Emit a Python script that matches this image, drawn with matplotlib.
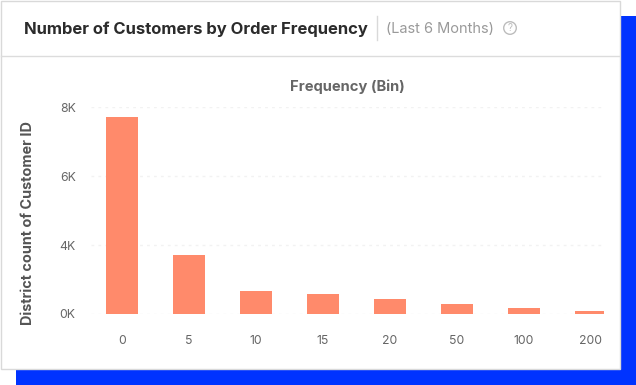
import numpy as np
import matplotlib
matplotlib.use("Agg")
import matplotlib.pyplot as plt
from matplotlib.patches import Rectangle, Circle

categories = ["0", "5", "10", "15", "20", "50", "100", "200"]
values = [7710, 3420, 1330, 1160, 870, 580, 350, 175]
tick_values = [0, 4000, 6000, 8000]
tick_labels = ["0K", "4K", "6K", "8K"]
title = "Number of Customers by Order Frequency"
subtitle = "(Last 6 Months)"
x_title = "Frequency (Bin)"
y_title = "District count of Customer ID"

W, H = 636, 385
FONT = "Inter"
plt.rcParams["font.family"] = [FONT, "DejaVu Sans"]

fig = plt.figure(figsize=(W / 100, H / 100), dpi=100, facecolor="white")
bg = fig.add_axes([0, 0, 1, 1])
bg.set_xlim(0, W)
bg.set_ylim(H, 0)
bg.axis("off")
bg.add_patch(Rectangle((16, 16), W - 16, H - 16, fc="#0033ff", ec="none"))
bg.add_patch(Rectangle((0.5, 0.5), 619, 368, fc="white", ec="#d9d9d9", lw=1))
bg.plot([1, 619], [55.5, 55.5], color="#dcdcdc", lw=1)
bg.plot([376.5, 376.5], [16, 40], color="#d9d9d9", lw=1)
bg.text(24, 29, title, fontsize=11.95, fontweight="bold", color="#2b2b2b", va="center")
bg.text(386, 29, subtitle, fontsize=10.5, color="#9a9a9a", va="center")
bg.add_patch(Circle((510, 28), 6.3, fc="none", ec="#bdbdbd", lw=1))
bg.text(510, 28.3, "?", fontsize=7, color="#bdbdbd", ha="center", va="center")
bg.text(347, 86.8, x_title, fontsize=10.6, fontweight="bold", color="#666666", ha="center", va="center")
bg.text(27.8, 223, y_title, fontsize=10.4, fontweight="bold", color="#555555", rotation=90, ha="center", va="center")

# Axes frame in pixels: x 91..604, y 107..314
ax = fig.add_axes([91 / W, 1 - 314 / H, (604 - 91) / W, (314 - 107) / H])
ax.patch.set_alpha(0)
fwd = lambda v: np.interp(v, tick_values, [0, 1, 2, 3])
inv = lambda p: np.interp(p, [0, 1, 2, 3], tick_values)
ax.set_yscale("function", functions=(fwd, inv))
ax.set_ylim(0, 8000)
xpos = np.arange(len(categories))
ax.set_xlim((91 - 122) / 67, (604 - 122) / 67)
ax.bar(xpos, values, width=32 / 67, color="#ff8a6b", zorder=3)
ax.set_yticks(tick_values, tick_labels)
ax.set_xticks(xpos, categories)
ax.minorticks_off()
ax.tick_params(axis="both", length=0, labelsize=8.8, labelcolor="#666666")
ax.tick_params(axis="x", pad=15)
ax.tick_params(axis="y", pad=11)
ax.grid(axis="y", color="#f2f2f2", lw=1, ls=(0, (2, 3)), zorder=0)
for s in ax.spines.values():
    s.set_visible(False)
fig.savefig("out.png", dpi=100)
